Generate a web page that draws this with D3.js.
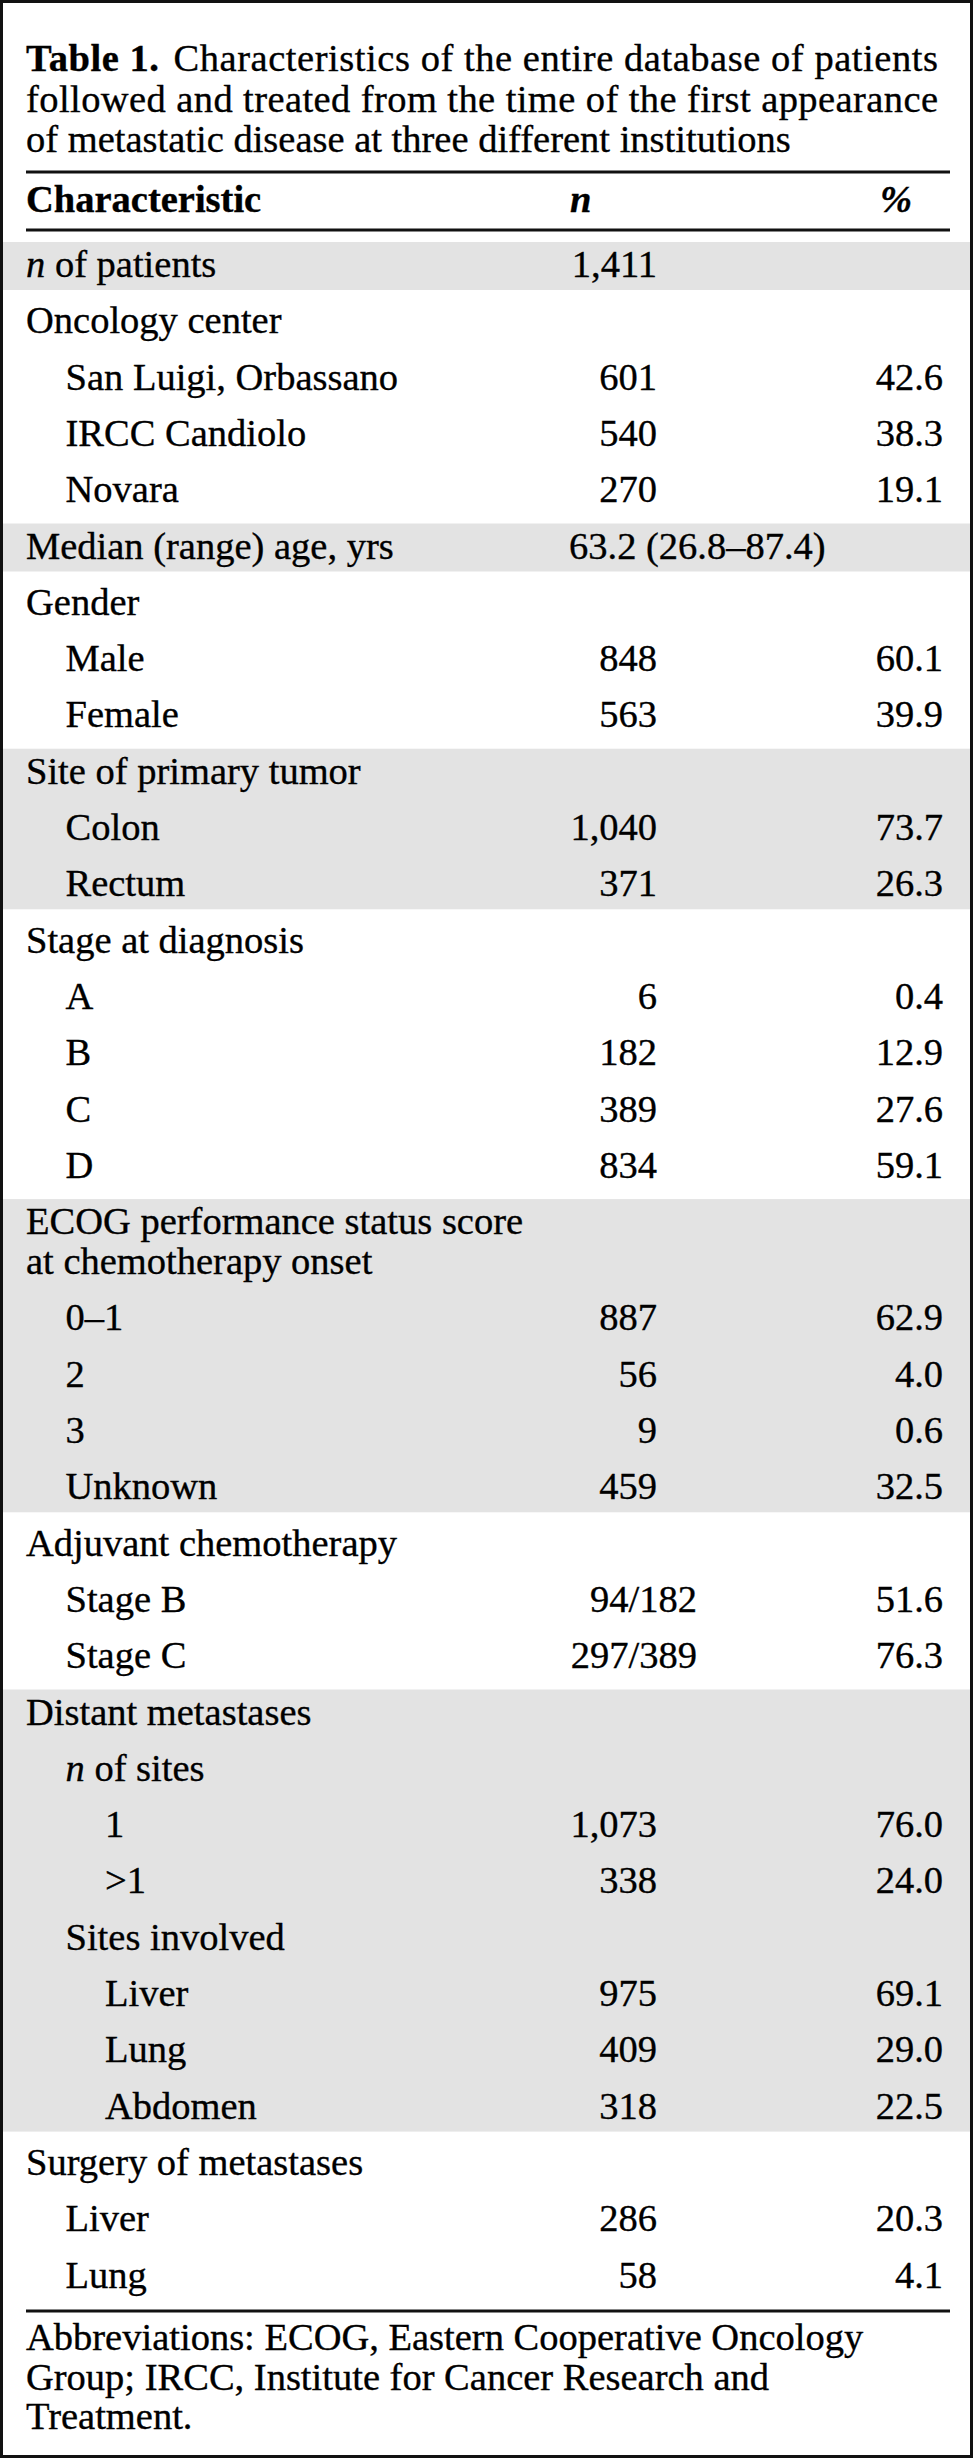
<!DOCTYPE html>
<html>
<head>
<meta charset="utf-8">
<script src="https://cdn.jsdelivr.net/npm/d3@7"></script>
<style>
  html, body { margin: 0; padding: 0; background: #fff; }
  svg { display: block; font-family: "Liberation Serif", "Times New Roman", serif; }
  svg text { fill: #000; stroke: #000; stroke-width: 0.35px; }
</style>
</head>
<body>
<div id="chart"></div>
<script>
// Table content
const titleLead = 'Table 1.';
const titleLines = [
  'Characteristics of the entire database of patients',
  'followed and treated from the time of the first appearance',
  'of metastatic disease at three different institutions'
];
const headers = ['Characteristic', 'n', '%'];

const labels = [
  'n of patients', 'Oncology center', 'San Luigi, Orbassano', 'IRCC Candiolo', 'Novara',
  'Median (range) age, yrs', 'Gender', 'Male', 'Female',
  'Site of primary tumor', 'Colon', 'Rectum',
  'Stage at diagnosis', 'A', 'B', 'C', 'D',
  'ECOG performance status score\nat chemotherapy onset', '0–1', '2', '3', 'Unknown',
  'Adjuvant chemotherapy', 'Stage B', 'Stage C',
  'Distant metastases', 'n of sites', '1', '>1', 'Sites involved', 'Liver', 'Lung', 'Abdomen',
  'Surgery of metastases', 'Liver', 'Lung'
];
const levels = [
  0, 0, 1, 1, 1,
  0, 0, 1, 1,
  0, 1, 1,
  0, 1, 1, 1, 1,
  0, 1, 1, 1, 1,
  0, 1, 1,
  0, 1, 2, 2, 1, 2, 2, 2,
  0, 1, 1
];
const nValues = [
  '1,411', '', '601', '540', '270',
  '63.2 (26.8–87.4)', '', '848', '563',
  '', '1,040', '371',
  '', '6', '182', '389', '834',
  '', '887', '56', '9', '459',
  '', '94/182', '297/389',
  '', '', '1,073', '338', '', '975', '409', '318',
  '', '286', '58'
];
const pctValues = [
  '', '', '42.6', '38.3', '19.1',
  '', '', '60.1', '39.9',
  '', '73.7', '26.3',
  '', '0.4', '12.9', '27.6', '59.1',
  '', '62.9', '4.0', '0.6', '32.5',
  '', '51.6', '76.3',
  '', '', '76.0', '24.0', '', '69.1', '29.0', '22.5',
  '', '20.3', '4.1'
];
// shaded blocks, as [first row, last row]
const shadedBlocks = [[0, 0], [5, 5], [9, 11], [17, 21], [25, 32]];

const footLines = [
  'Abbreviations: ECOG, Eastern Cooperative Oncology',
  'Group; IRCC, Institute for Cancer Research and',
  'Treatment.'
];

// Layout
const WIDTH = 975;
const HEIGHT = 2460;
const FS = 38.5;
const LEFT = 26;
const RIGHT = 950;
const INDENT = 39.5;
const N_RIGHT = 657;
const PCT_RIGHT = 943;
const WRAP = 40 / 56.3; // extra line inside a row, in row units

const svg = d3.select('#chart').append('svg')
  .attr('width', WIDTH)
  .attr('height', HEIGHT)
  .attr('viewBox', `0 0 ${WIDTH} ${HEIGHT}`)
  .style('font-size', `${FS}px`);

// row start positions in row units
const lineCounts = labels.map((d) => d.split('\n').length);
const rowStart = [];
lineCounts.reduce((acc, c, i) => { rowStart[i] = acc; return acc + 1 + (c - 1) * WRAP; }, 0);
const rowEnd = rowStart.map((s, i) => s + (lineCounts[i] - 1) * WRAP);
const totalUnits = rowEnd[rowEnd.length - 1];

const y = d3.scaleLinear().domain([0, totalUnits]).range([277, 277 + 56.3 * totalUnits]);
const x = d3.scaleLinear().domain([0, 2]).range([LEFT, LEFT + 2 * INDENT]);

// frame
svg.append('rect')
  .attr('x', 1.5).attr('y', 1.5)
  .attr('width', 970).attr('height', 2455)
  .attr('fill', 'none').attr('stroke', '#111').attr('stroke-width', 3);

// shaded bands
svg.append('g').selectAll('rect')
  .data(shadedBlocks)
  .join('rect')
  .attr('x', 3)
  .attr('width', 967)
  .attr('y', (d) => y(rowStart[d[0]]) - 35)
  .attr('height', (d) => y(rowEnd[d[1]]) + 13 - (y(rowStart[d[0]]) - 35))
  .attr('fill', '#e3e3e3');

// title
const title = svg.append('g');
const tl = title.append('text').attr('x', LEFT).attr('y', 71);
tl.append('tspan').attr('font-weight', 'bold').text(titleLead);
tl.append('tspan').attr('dx', 14).text(titleLines[0]);
title.selectAll('text.more')
  .data(titleLines.slice(1))
  .join('text')
  .attr('class', 'more')
  .attr('x', LEFT)
  .attr('y', (d, i) => 111.5 + i * 40.5)
  .text((d) => d);

// justify first two title lines
[tl.node(), title.select('text.more').node()].forEach((node) => {
  const w = node.getComputedTextLength();
  if (w < 912) node.setAttribute('textLength', 912), node.setAttribute('lengthAdjust', 'spacing');
});

// rules
const rules = [172, 230, 2311];
svg.append('g').selectAll('line')
  .data(rules)
  .join('line')
  .attr('x1', LEFT).attr('x2', RIGHT)
  .attr('y1', (d) => d).attr('y2', (d) => d)
  .attr('stroke', '#111').attr('stroke-width', 3);

// header
const head = svg.append('g').attr('font-weight', 'bold');
head.append('text').attr('x', LEFT).attr('y', 212).text(headers[0]);
head.append('text').attr('x', 570).attr('y', 212).attr('font-style', 'italic').text(headers[1]);
head.append('text').attr('x', 880).attr('y', 212).attr('font-style', 'italic').text(headers[2]);

// body rows
const rows = svg.append('g').selectAll('g')
  .data(labels.map((label, i) => ({ label, level: levels[i], n: nValues[i], pct: pctValues[i], i })))
  .join('g');

rows.each(function (d) {
  const g = d3.select(this);
  const by = y(rowStart[d.i]);
  d.label.split('\n').forEach((line, k) => {
    const t = g.append('text').attr('x', x(d.level)).attr('y', by + k * 40);
    if (line.startsWith('n ')) {
      t.append('tspan').attr('font-style', 'italic').text('n');
      t.append('tspan').text(line.slice(1));
    } else {
      t.text(line);
    }
  });
  if (d.n) {
    const t = g.append('text').attr('y', by).text(d.n);
    if (d.n.includes('(')) {
      t.attr('x', 569).attr('text-anchor', 'start');
    } else if (d.n.includes('/')) {
      t.attr('x', N_RIGHT + 40).attr('text-anchor', 'end');
    } else {
      t.attr('x', N_RIGHT).attr('text-anchor', 'end');
    }
  }
  if (d.pct) {
    g.append('text').attr('x', PCT_RIGHT).attr('y', by)
      .attr('text-anchor', 'end').text(d.pct);
  }
});

// footnote
svg.append('g').selectAll('text')
  .data(footLines)
  .join('text')
  .attr('x', LEFT)
  .attr('y', (d, i) => 2350 + i * 39.5)
  .text((d) => d);
</script>
</body>
</html>
